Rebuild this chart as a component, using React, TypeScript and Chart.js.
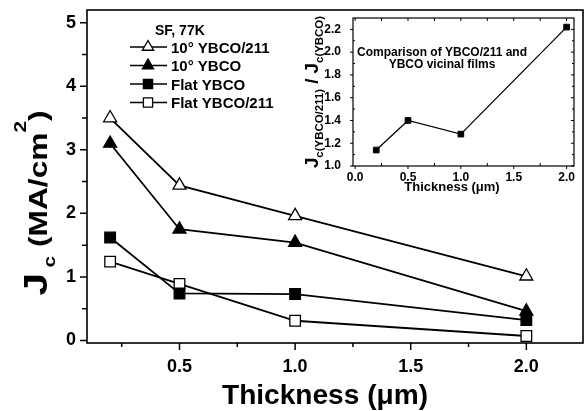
import React, { useEffect, useRef } from 'react';
import { Chart, registerables } from 'chart.js';

Chart.register(...registerables);

// ---------- data ----------
const thickness = [0.2, 0.5, 1.0, 2.0];
const vicinalYbco211 = [3.5, 2.44, 1.96, 1.01];
const vicinalYbco = [3.1, 1.75, 1.54, 0.46];
const flatYbco = [1.62, 0.74, 0.73, 0.32];
const flatYbco211 = [1.24, 0.89, 0.31, 0.07];
const seriesNames = ['10° YBCO/211', '10° YBCO', 'Flat YBCO', 'Flat YBCO/211'];
const legendTitle = 'SF, 77K';

const mainXTicks = [0.5, 1.0, 1.5, 2.0];
const mainXMinor = [0.25, 0.75, 1.25, 1.75];
const mainYTicks = [0, 1, 2, 3, 4, 5];
const mainYMinor = [0.5, 1.5, 2.5, 3.5, 4.5];

const insetThickness = [0.2, 0.5, 1.0, 2.0];
const insetRatio = [1.14, 1.4, 1.28, 2.22];
const insetXTicks = [0.0, 0.5, 1.0, 1.5, 2.0];
const insetXMinor = [0.25, 0.75, 1.25, 1.75];
const insetYTicks = [1.0, 1.2, 1.4, 1.6, 1.8, 2.0, 2.2];
const insetYMinor = [1.1, 1.3, 1.5, 1.7, 1.9, 2.1];
const insetNote = ['Comparison of YBCO/211 and', 'YBCO vicinal films'];

const FONT = '"Liberation Sans", Arial, Helvetica, sans-serif';

type Piece = { t: string; size: number; dy: number };

function drawRich(ctx: CanvasRenderingContext2D, pieces: Piece[], x: number, y: number, angle: number, stretch: number) {
  ctx.save();
  ctx.translate(x, y);
  ctx.rotate(angle);
  ctx.scale(stretch, 1);
  let total = 0;
  const widths = pieces.map((p) => {
    ctx.font = `bold ${p.size}px ${FONT}`;
    const w = ctx.measureText(p.t).width;
    total += w;
    return w;
  });
  let cx = -total / 2;
  ctx.fillStyle = '#000';
  ctx.textBaseline = 'alphabetic';
  ctx.textAlign = 'left';
  pieces.forEach((p, i) => {
    ctx.font = `bold ${p.size}px ${FONT}`;
    ctx.fillText(p.t, cx, p.dy);
    cx += widths[i];
  });
  ctx.restore();
}

function drawMarker(ctx: CanvasRenderingContext2D, style: string, x: number, y: number, r: number, fill: string) {
  ctx.beginPath();
  if (style === 'triangle') {
    ctx.moveTo(x, y - r);
    ctx.lineTo(x + r * 0.866, y + r * 0.5);
    ctx.lineTo(x - r * 0.866, y + r * 0.5);
    ctx.closePath();
  } else {
    const s = r * Math.SQRT1_2;
    ctx.rect(x - s, y - s, 2 * s, 2 * s);
  }
  ctx.fillStyle = fill;
  ctx.fill();
  ctx.lineWidth = 1.3;
  ctx.strokeStyle = '#000';
  ctx.stroke();
}

const seriesValues = [vicinalYbco211, vicinalYbco, flatYbco, flatYbco211];
const seriesStyles = ['triangle', 'triangle', 'rect', 'rect'];
const seriesFills = ['#ffffff', '#000000', '#000000', '#ffffff'];

function drawFrameTicks(chart: any, xMaj: number[], xMin: number[], yMaj: number[], yMin: number[], opts: any) {
  const ctx: CanvasRenderingContext2D = chart.ctx;
  const a = chart.chartArea;
  const xs = chart.scales.x;
  const ys = chart.scales.y;
  ctx.save();
  ctx.strokeStyle = '#000';
  ctx.lineWidth = opts.frameWidth;
  ctx.strokeRect(a.left, a.top, a.right - a.left, a.bottom - a.top);
  ctx.lineWidth = opts.tickWidth;
  ctx.beginPath();
  const xt = (v: number, len: number) => {
    const px = xs.getPixelForValue(v);
    ctx.moveTo(px, a.bottom);
    ctx.lineTo(px, a.bottom + len);
    if (opts.mirror) {
      ctx.moveTo(px, a.top);
      ctx.lineTo(px, a.top + Math.abs(len));
    }
  };
  const yt = (v: number, len: number) => {
    const py = ys.getPixelForValue(v);
    ctx.moveTo(a.left, py);
    ctx.lineTo(a.left - len, py);
    if (opts.mirror) {
      ctx.moveTo(a.right, py);
      ctx.lineTo(a.right - Math.abs(len), py);
    }
  };
  xMaj.forEach((v) => xt(v, opts.xMajLen));
  xMin.forEach((v) => xt(v, opts.xMinLen));
  yMaj.forEach((v) => yt(v, opts.yMajLen));
  yMin.forEach((v) => yt(v, opts.yMinLen));
  ctx.stroke();
  ctx.restore();
}

const zeroPad = (s: any) => {
  s.paddingTop = 0;
  s.paddingBottom = 0;
  s.paddingLeft = 0;
  s.paddingRight = 0;
};

const mainDecor = {
  id: 'mainDecor',
  afterDraw(chart: any) {
    const ctx: CanvasRenderingContext2D = chart.ctx;
    drawFrameTicks(chart, mainXTicks, mainXMinor, mainYTicks, mainYMinor, {
      frameWidth: 1.6, tickWidth: 1.5, xMajLen: 7, xMinLen: 4, yMajLen: 7, yMinLen: 5, mirror: false,
    });
    // x title
    drawRich(ctx, [{ t: 'Thickness (μm)', size: 27, dy: 0 }], 325, 404, 0, 1.04);
    // y title
    drawRich(
      ctx,
      [
        { t: 'J', size: 33, dy: 0 },
        { t: ' c', size: 17, dy: 8 },
        { t: ' (MA/cm', size: 26, dy: 0 },
        { t: '2', size: 17, dy: -21 },
        { t: ')', size: 26, dy: 0 },
      ],
      47, 203, -Math.PI / 2, 1.22
    );
    // legend
    ctx.save();
    ctx.fillStyle = '#000';
    ctx.font = `bold 14px ${FONT}`;
    ctx.textBaseline = 'alphabetic';
    ctx.fillText(legendTitle, 155, 35);
    seriesNames.forEach((name, i) => {
      const y = 47 + i * 18.5;
      ctx.beginPath();
      ctx.moveTo(130, y);
      ctx.lineTo(167, y);
      ctx.lineWidth = 1.5;
      ctx.strokeStyle = '#000';
      ctx.stroke();
      drawMarker(ctx, seriesStyles[i], 148, y, 6.5, seriesFills[i]);
      ctx.fillStyle = '#000';
      ctx.font = `bold 15px ${FONT}`;
      ctx.fillText(name, 171, y + 5.5);
    });
    ctx.restore();
  },
};

const insetDecor = {
  id: 'insetDecor',
  afterDraw(chart: any) {
    const ctx: CanvasRenderingContext2D = chart.ctx;
    drawFrameTicks(chart, insetXTicks, insetXMinor, insetYTicks, insetYMinor, {
      frameWidth: 1.2, tickWidth: 1, xMajLen: 3, xMinLen: -3, yMajLen: 3, yMinLen: -2, mirror: true,
    });
    ctx.save();
    ctx.fillStyle = '#000';
    ctx.font = `bold 12px ${FONT}`;
    ctx.textAlign = 'center';
    ctx.textBaseline = 'alphabetic';
    ctx.fillText(insetNote[0], 152, 56);
    ctx.fillText(insetNote[1], 152, 68);
    ctx.restore();
    drawRich(ctx, [{ t: 'Thickness (μm)', size: 13, dy: 0 }], 162, 191, 0, 1);
    drawRich(
      ctx,
      [
        { t: 'J', size: 18, dy: 0 },
        { t: 'c(YBCO/211)', size: 11, dy: 5 },
        { t: ' / ', size: 18, dy: 0 },
        { t: 'J', size: 18, dy: 0 },
        { t: 'c(YBCO)', size: 11, dy: 5 },
      ],
      28, 92, -Math.PI / 2, 1.04
    );
  },
};

export default function App() {
  const mainRef = useRef<HTMLCanvasElement>(null);
  const insetRef = useRef<HTMLCanvasElement>(null);

  useEffect(() => {
    const mainChart = new Chart(mainRef.current as HTMLCanvasElement, {
      type: 'line',
      data: {
        datasets: seriesNames.map((name, i) => ({
          label: name,
          data: thickness.map((t, j) => ({ x: t, y: seriesValues[i][j] })),
          borderColor: '#000',
          borderWidth: 1.8,
          pointStyle: seriesStyles[i] as any,
          pointRadius: 7.5,
          pointBackgroundColor: seriesFills[i],
          pointBorderColor: '#000',
          pointBorderWidth: 1.3,
          fill: false,
          tension: 0,
          clip: false,
        })),
      },
      options: {
        responsive: false,
        animation: false,
        devicePixelRatio: 1,
        layout: { autoPadding: false, padding: { top: 10, right: 2, left: 0, bottom: 0 } },
        plugins: { legend: { display: false }, tooltip: { enabled: false } },
        scales: {
          x: {
            type: 'linear',
            min: 0.1,
            max: 2.245,
            afterBuildTicks: (s: any) => {
              s.ticks = mainXTicks.map((v) => ({ value: v }));
            },
            afterFit: (s: any) => {
              s.height = 68;
              zeroPad(s);
            },
            grid: { display: false, drawTicks: false },
            border: { display: false },
            ticks: {
              padding: 13,
              color: '#000',
              font: { family: FONT, size: 18, weight: 'bold' },
              callback: (v: any) => Number(v).toFixed(1),
              maxRotation: 0,
            },
          },
          y: {
            type: 'linear',
            min: -0.04,
            max: 5.2,
            afterBuildTicks: (s: any) => {
              s.ticks = mainYTicks.map((v) => ({ value: v }));
            },
            afterFit: (s: any) => {
              s.width = 87;
              zeroPad(s);
            },
            grid: { display: false, drawTicks: false },
            border: { display: false },
            ticks: {
              padding: 11,
              color: '#000',
              font: { family: FONT, size: 18, weight: 'bold' },
              callback: (v: any) => String(v),
            },
          },
        },
      } as any,
      plugins: [mainDecor],
    });

    const insetChart = new Chart(insetRef.current as HTMLCanvasElement, {
      type: 'line',
      data: {
        datasets: [
          {
            label: 'ratio',
            data: insetThickness.map((t, j) => ({ x: t, y: insetRatio[j] })),
            borderColor: '#000',
            borderWidth: 1.3,
            pointStyle: 'rect',
            pointRadius: 4,
            pointBackgroundColor: '#000',
            pointBorderColor: '#000',
            pointBorderWidth: 1,
            fill: false,
            tension: 0,
            clip: false,
          },
        ],
      },
      options: {
        responsive: false,
        animation: false,
        devicePixelRatio: 1,
        layout: { autoPadding: false, padding: { top: 18, right: 11, left: 0, bottom: 0 } },
        plugins: { legend: { display: false }, tooltip: { enabled: false } },
        scales: {
          x: {
            type: 'linear',
            min: -0.02,
            max: 2.07,
            afterBuildTicks: (s: any) => {
              s.ticks = insetXTicks.map((v) => ({ value: v }));
            },
            afterFit: (s: any) => {
              s.height = 34;
              zeroPad(s);
            },
            grid: { display: false, drawTicks: false },
            border: { display: false },
            ticks: {
              padding: 4,
              color: '#000',
              font: { family: FONT, size: 12, weight: 'bold' },
              callback: (v: any) => Number(v).toFixed(1),
              maxRotation: 0,
            },
          },
          y: {
            type: 'linear',
            min: 1.0,
            max: 2.3,
            afterBuildTicks: (s: any) => {
              s.ticks = insetYTicks.map((v) => ({ value: v }));
            },
            afterFit: (s: any) => {
              s.width = 63;
              zeroPad(s);
            },
            grid: { display: false, drawTicks: false },
            border: { display: false },
            ticks: {
              padding: 12,
              color: '#000',
              font: { family: FONT, size: 12, weight: 'bold' },
              callback: (v: any) => Number(v).toFixed(1),
            },
          },
        },
      } as any,
      plugins: [insetDecor],
    });

    return () => {
      mainChart.destroy();
      insetChart.destroy();
    };
  }, []);

  return (
    <div style={{ position: 'absolute', left: 0, top: 0, width: 585, height: 411, background: '#fff' }}>
      <canvas ref={mainRef} width={585} height={411} style={{ position: 'absolute', left: 0, top: 0 }} />
      <canvas ref={insetRef} width={295} height={200} style={{ position: 'absolute', left: 290, top: 0 }} />
    </div>
  );
}
